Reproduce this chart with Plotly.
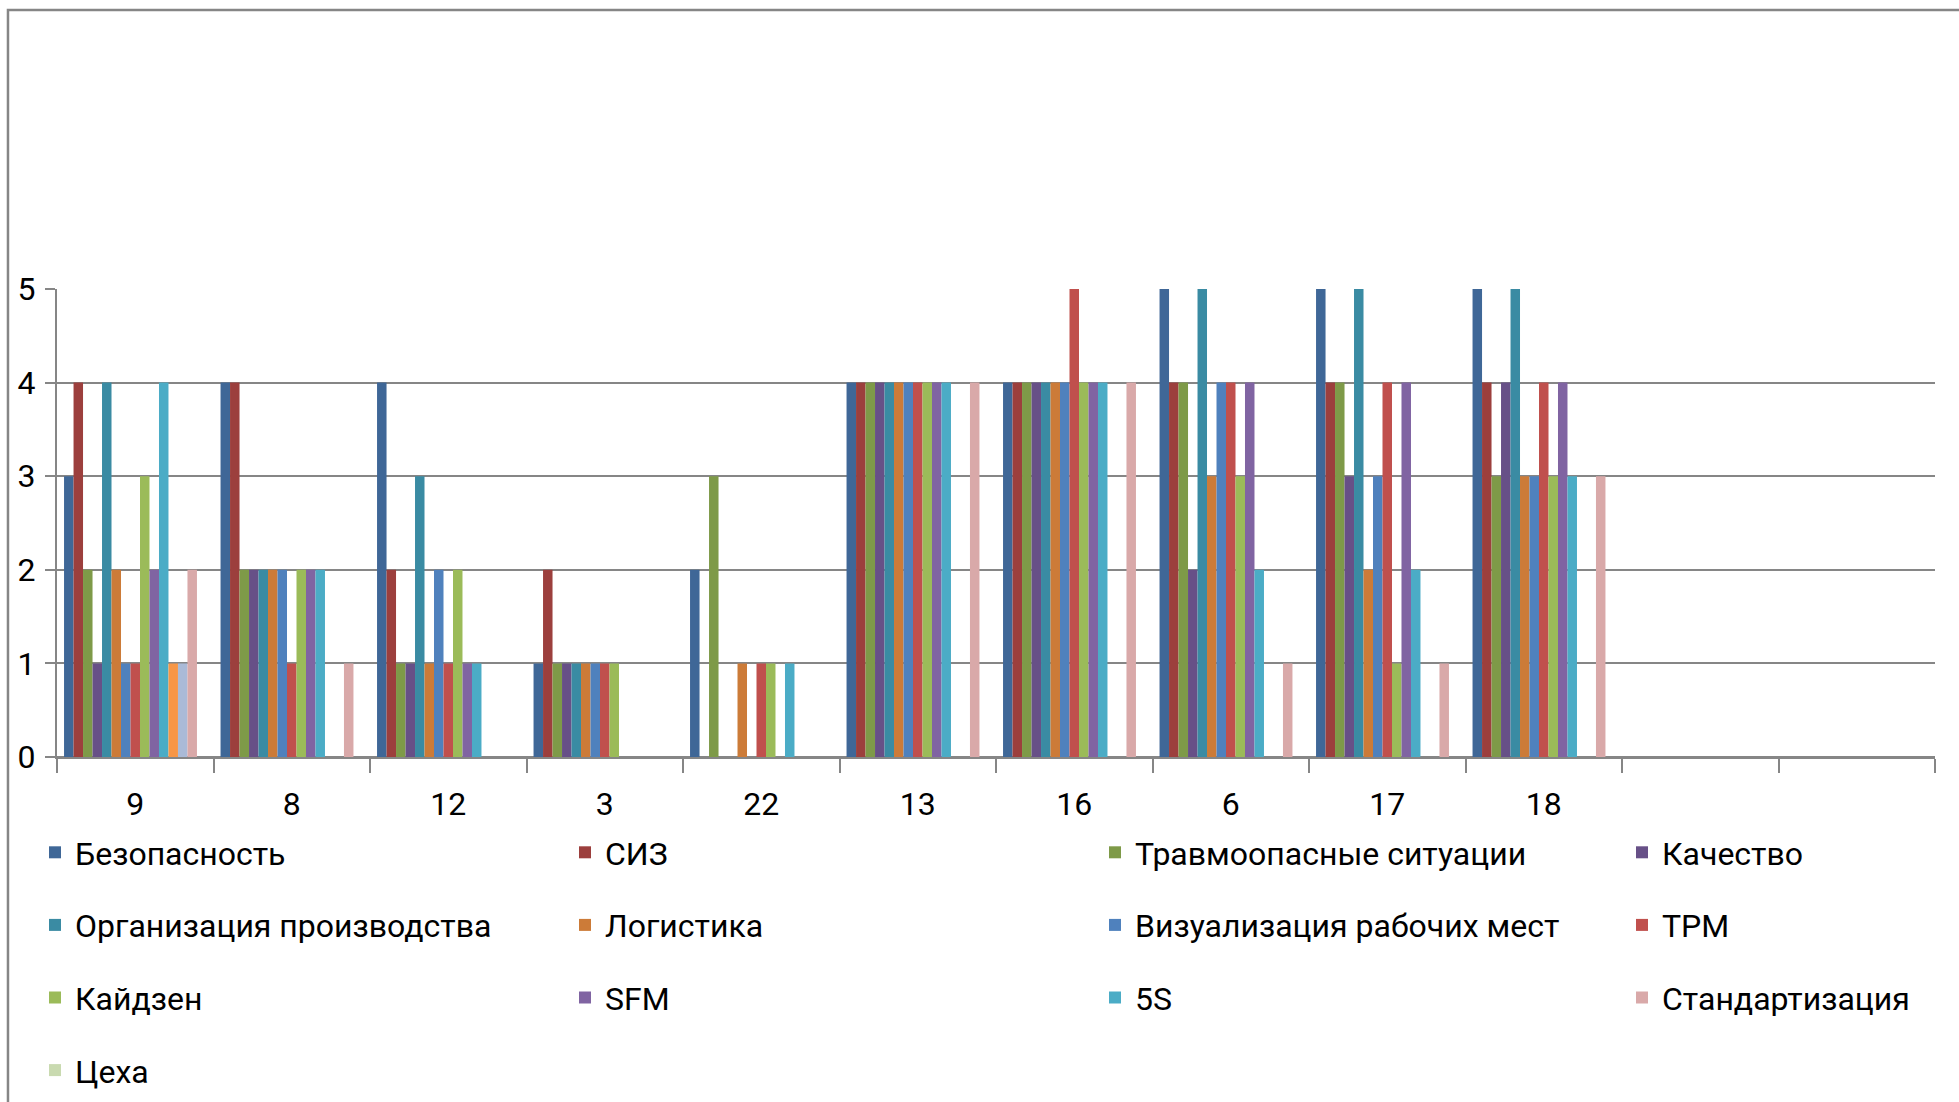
import plotly.graph_objects as go

# Workshop numbers along the category axis (two trailing empty slots)
categories = ["9", "8", "12", "3", "22", "13", "16", "6", "17", "18", " ", "  "]

bezopasnost = [3, 4, 4, 1, 2, 4, 4, 5, 5, 5, None, None]
siz = [4, 4, 2, 2, 0, 4, 4, 4, 4, 4, None, None]
travmo = [2, 2, 1, 1, 3, 4, 4, 4, 4, 3, None, None]
kachestvo = [1, 2, 1, 1, 0, 4, 4, 2, 3, 4, None, None]
organizaciya = [4, 2, 3, 1, 0, 4, 4, 5, 5, 5, None, None]
logistika = [2, 2, 1, 1, 1, 4, 4, 3, 2, 3, None, None]
vizualizaciya = [1, 2, 2, 1, 0, 4, 4, 4, 3, 3, None, None]
tpm = [1, 1, 1, 1, 1, 4, 5, 4, 4, 4, None, None]
kaizen = [3, 2, 2, 1, 1, 4, 4, 3, 1, 3, None, None]
sfm = [2, 2, 1, 0, 0, 4, 4, 4, 4, 4, None, None]
five_s = [4, 2, 1, 0, 1, 4, 4, 2, 2, 3, None, None]
ryad12 = [1, None, None, None, None, None, None, None, None, None, None, None]
ryad13 = [1, None, None, None, None, None, None, None, None, None, None, None]
standart = [2, 1, 0, 0, 0, 4, 4, 1, 1, 3, None, None]
cekha = [0, 0, 0, 0, 0, 0, 0, 0, 0, 0, 0, 0]

y_ticks = [0, 1, 2, 3, 4, 5]

# (name, values, colour, legend column, shown in legend)
series = [
    ("Безопасность", bezopasnost, "#3F6797", "legend", True),
    ("СИЗ", siz, "#9C3F3D", "legend2", True),
    ("Травмоопасные ситуации", travmo, "#7E9A48", "legend3", True),
    ("Качество", kachestvo, "#675087", "legend4", True),
    ("Организация производства", organizaciya, "#3A8BA3", "legend", True),
    ("Логистика", logistika, "#CC7B38", "legend2", True),
    ("Визуализация рабочих мест", vizualizaciya, "#4F81BD", "legend3", True),
    ("TPM", tpm, "#C0504D", "legend4", True),
    ("Кайдзен", kaizen, "#9BBB59", "legend", True),
    ("SFM", sfm, "#8064A2", "legend2", True),
    ("5S", five_s, "#4BACC6", "legend3", True),
    ("Ряд 12", ryad12, "#F79646", "legend", False),
    ("Ряд 13", ryad13, "#AABAD7", "legend", False),
    ("Стандартизация", standart, "#D9A9A9", "legend4", True),
    ("Цеха", cekha, "#C9DAB0", "legend", True),
]

fig = go.Figure()
for i, (name, vals, color, leg, show) in enumerate(series):
    fig.add_trace(go.Bar(
        x=categories, y=vals, name=name,
        marker=dict(color=color, line=dict(width=0)),
        legend=leg, legendgroup=f"g{i}", showlegend=show,
    ))

W, H = 1959, 1102
GRID = "#868686"
FONT = "Roboto"
FS = 32

legend_common = dict(
    orientation="v", xref="container", yref="container",
    xanchor="left", yanchor="top", traceorder="grouped",
    tracegroupgap=28, bgcolor="rgba(0,0,0,0)",
    font=dict(family=FONT, size=FS, color="#000000"),
)
leg_top = 1 - 825 / H

fig.update_layout(
    width=W, height=H,
    margin=dict(l=57, r=24, t=289, b=345, autoexpand=False),
    paper_bgcolor="white", plot_bgcolor="white",
    barmode="group", bargap=0.09, bargroupgap=0,
    font=dict(family=FONT, size=FS, color="#000000"),
    showlegend=True,
    legend=dict(x=35 / W, y=leg_top, **legend_common),
    legend2=dict(x=565 / W, y=leg_top, **legend_common),
    legend3=dict(x=1095 / W, y=leg_top, **legend_common),
    legend4=dict(x=1622 / W, y=leg_top, **legend_common),
    xaxis=dict(
        type="category", categoryorder="array", categoryarray=categories,
        showline=True, linecolor=GRID, linewidth=2,
        ticks="outside", tickson="boundaries", ticklen=14,
        tickcolor=GRID, tickwidth=2, showgrid=False,
        ticklabelstandoff=18, tickangle=0, automargin=False,
        tickfont=dict(family=FONT, size=FS, color="#000000"),
    ),
    yaxis=dict(
        range=[0, 5], tickvals=y_ticks, ticktext=[str(v) for v in y_ticks],
        showline=True, linecolor=GRID, linewidth=2,
        ticks="outside", ticklen=10, tickcolor=GRID, tickwidth=2,
        showgrid=True, gridcolor=GRID, gridwidth=2,
        zeroline=True, zerolinecolor=GRID, zerolinewidth=2,
        ticklabelstandoff=3, automargin=False,
        tickfont=dict(family=FONT, size=FS, color="#000000"),
    ),
)

# Chart-area frame: left and top edges
fig.add_shape(
    type="path", xref="paper", yref="paper",
    path="M -0.0261,-0.80 L -0.0261,1.596 L 1.03,1.596",
    line=dict(color=GRID, width=2.5), layer="above",
)

fig.write_html("out.html")
